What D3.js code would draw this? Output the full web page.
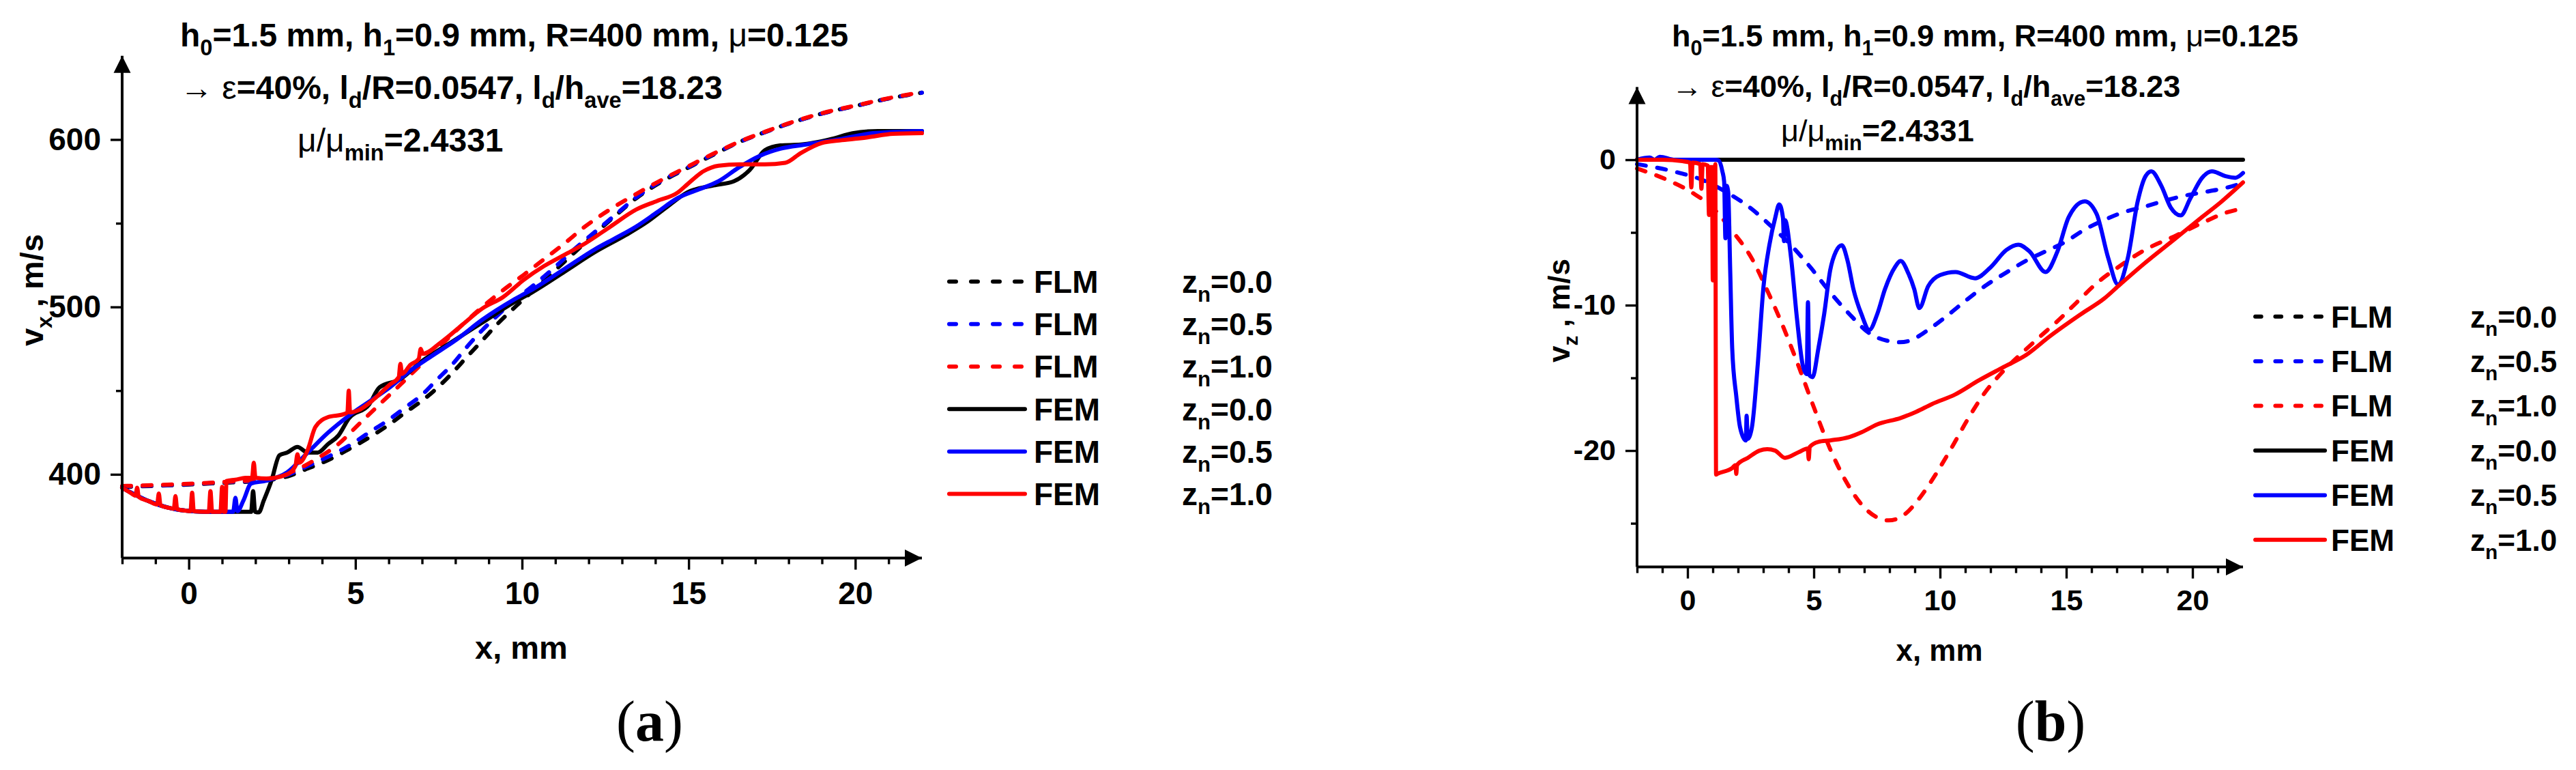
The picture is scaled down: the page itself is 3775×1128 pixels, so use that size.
<!DOCTYPE html>
<html><head><meta charset="utf-8">
<script src="https://cdnjs.cloudflare.com/ajax/libs/d3/7.8.5/d3.min.js"></script>
<style>html,body{margin:0;padding:0;background:#fff}svg{display:block}</style>
</head><body>
<svg id="c" width="3775" height="1128" xmlns="http://www.w3.org/2000/svg"></svg>
<script>
// ---------- shared categories / ticks ----------
const xDomain = [-2, 22];
const xMajorTicks = [0, 5, 10, 15, 20];
const xMinorTicks = [-2, -1, 1, 2, 3, 4, 6, 7, 8, 9, 11, 12, 13, 14, 16, 17, 18, 19, 21];
const legendMethods = ["FLM", "FLM", "FLM", "FEM", "FEM", "FEM"];
const legendZn = ["0.0", "0.5", "1.0", "0.0", "0.5", "1.0"];
const seriesColors = ["#000000", "#0000ff", "#ff0000", "#000000", "#0000ff", "#ff0000"];
const seriesDashed = [true, true, true, false, false, false];

// ---------- panel (a): v_x, m/s ----------
const aYDomain = [350, 650];
const aYMajorTicks = [400, 500, 600];
const aYMinorTicks = [450, 550];
const aFLM00 = [[-2,392.5],[-0.5,393.5],[1.1,395],[2.33,396.5],[3,399],[3.57,403.5],[4.18,408.5],[4.8,415],[5.41,422],[6.03,430],[6.5,437],[7,444],[7.42,451],[7.88,460],[8.34,470],[8.81,480],[9.27,490],[9.74,499],[10.35,510],[11,522],[11.6,533],[12.2,544],[12.8,554.5],[13.43,565],[14.2,575],[14.97,583],[15.75,591],[16.52,598.5],[17.3,604.5],[18,609.5],[19,615.5],[20.1,620.5],[21,624.5],[22,628]];
const aFLM05 = [[-2,392.8],[-0.45,393.7],[1.1,395.3],[2.33,396.8],[3,400],[3.57,405],[4.18,410.5],[4.8,417],[5.41,425],[6.03,433],[6.5,440],[7,447.5],[7.42,456],[7.9,465.5],[8.34,476],[8.8,486],[9.27,495],[9.74,503.5],[10.35,513],[11,524],[11.6,535],[12.2,545],[12.8,555],[13.43,565.5],[14.2,575.5],[14.97,583.3],[15.75,591.3],[16.52,598.5],[17.3,604.5],[18,609.5],[19,615.5],[20.1,620.5],[21,624.5],[22,628]];
const aFLM10 = [[-2,393],[-0.45,394],[1.1,395.5],[2.33,397.3],[3.26,403],[3.87,409.7],[4.49,418.1],[5.1,429.9],[5.72,441.7],[6.35,453.6],[6.96,465.4],[7.57,477.2],[8.19,489],[8.81,500],[9.43,510],[10.04,519],[10.66,528.5],[11.28,538],[11.89,548],[12.66,558.5],[13.43,567.5],[14.2,576],[14.97,583.8],[15.75,591.6],[16.52,598.7],[17.3,604.7],[18,609.7],[19,615.7],[20.1,620.7],[21,624.7],[22,628.2]];
const aFEM00 = [[-2,392],[-1.2,384],[-0.6,380],[-0.1,378.3],[0.5,377.6],[1.87,377.6],[1.93,390],[1.99,377.6],[2.1,377.3],[2.25,384.4],[2.48,396.2],[2.72,411.4],[2.95,413],[3.26,416.4],[3.57,413],[3.87,413],[4.18,418.1],[4.49,423.2],[4.8,433.3],[5.41,441.7],[5.72,451.9],[6.35,456.9],[6.96,467.1],[7.88,478.9],[8.81,490.7],[9.74,502.5],[10.35,509.3],[11.28,521.1],[12.2,532.9],[13.12,543],[13.74,550.6],[14.36,559.9],[14.97,568.5],[15.75,572.6],[16.36,575.1],[16.83,581.8],[17.29,593.6],[17.75,596.5],[18.37,597],[19.3,600.4],[19.92,603.8],[20.68,605.1],[22,605.1]];
const aFEM05 = [[-2,392],[-1.2,384],[-0.6,380],[-0.1,378.3],[0.5,377.6],[1.1,377.6],[1.33,377.6],[1.4,386],[1.46,378],[1.64,384.4],[1.87,394.5],[2.33,396.2],[2.95,401.2],[3.57,413],[4.18,424.9],[4.8,435],[5.41,443.4],[6.03,451.9],[6.65,462],[7.27,470.4],[8.04,480.6],[8.81,492.4],[9.74,504.2],[10.35,510.9],[11.28,522.8],[12.2,534.6],[12.82,541.3],[13.43,548.1],[14.05,556.5],[14.67,565],[15.28,570],[15.9,575.1],[16.52,583.5],[17.14,590.3],[17.75,594.5],[18.52,597],[19.6,600.4],[20.53,603.8],[22,605.1]];
const aFEM10 = [[-2,392],[-1.75,389],[-1.6,387.3],[-1.55,392],[-1.5,386.5],[-1.2,384],[-0.95,382],[-0.9,388.5],[-0.85,381.6],[-0.6,380],[-0.45,379.5],[-0.4,387],[-0.35,379.2],[-0.1,378.3],[0.05,378],[0.1,389],[0.15,378],[0.5,377.6],[0.6,377.6],[0.65,390],[0.7,377.6],[0.95,377.6],[1.0,392.5],[1.05,377.6],[1.1,377.6],[1.13,396],[1.4,396.8],[1.7,397.9],[1.9,398],[1.95,407],[2.0,398],[2.33,397.5],[2.95,400],[3.2,405],[3.26,412],[3.32,407],[3.57,414.7],[3.8,428.3],[4.18,434.2],[4.64,435.9],[4.76,437],[4.8,450],[4.84,437],[5.1,438.4],[5.57,445.1],[6.03,453.6],[6.3,458],[6.35,466],[6.4,460],[6.65,465.4],[6.9,469],[6.96,475],[7.02,472],[7.57,478.9],[8.19,489],[8.81,499.1],[9.43,505.9],[10.04,516],[10.66,524.4],[11.28,531.2],[11.89,537.9],[12.66,548.1],[13.43,558.2],[14.05,563.3],[14.67,568.3],[14.97,573.4],[15.44,581],[15.9,584.4],[16.52,585.2],[17.29,585.2],[17.9,586.1],[18.37,592],[18.99,597.9],[19.6,599.6],[20.37,601.3],[21.14,603.4],[22,603.8]];

// ---------- panel (b): v_z, m/s ----------
const bYDomain = [-28, 5];
const bYMajorTicks = [-20, -10, 0];
const bYMinorTicks = [-25, -15, -5];
const bFLM00 = [[-2,0],[5,0],[10,0],[15,0],[22,0]];
const bFLM05 = [[-2,-0.3],[-0.56,-0.8],[0.68,-1.45],[1.61,-2.3],[2.55,-3.4],[3.32,-4.58],[4.1,-5.88],[4.87,-7.4],[5.65,-9.12],[6.42,-10.63],[7.2,-11.93],[7.97,-12.47],[8.42,-12.55],[8.75,-12.47],[9.53,-11.7],[10.3,-10.7],[11.08,-9.6],[11.85,-8.6],[12.63,-7.75],[13.4,-6.95],[14.18,-6.3],[14.96,-5.65],[15.73,-4.8],[16.5,-4.15],[17.28,-3.6],[18.06,-3.25],[18.84,-2.85],[19.61,-2.5],[20.38,-2.25],[21.16,-2.0],[22,-1.6]];
const bFLM10 = [[-2,-0.6],[-0.87,-1.34],[0.22,-2.3],[0.99,-3.29],[1.77,-4.9],[2.55,-6.8],[3.16,-9.0],[3.78,-11.45],[4.4,-14.2],[5.02,-17.1],[5.65,-19.9],[6.27,-22.1],[6.89,-23.7],[7.51,-24.6],[7.97,-24.8],[8.59,-24.4],[9.22,-23.2],[9.84,-21.6],[10.46,-19.8],[11.08,-17.9],[11.7,-16.2],[12.47,-14.6],[13.24,-13.3],[13.87,-12.3],[14.65,-11.1],[15.42,-9.8],[16.2,-8.5],[17.13,-7.3],[18.06,-6.25],[19.3,-5.25],[20.38,-4.35],[21.31,-3.65],[22,-3.35]];
const bFEM00 = [[-2,0],[5,0],[10,0],[15,0],[22,0]];
const bFEM05 = [[-2,0],[-1.5,0.15],[-1.3,0],[-1.1,0.2],[-0.5,0],[0.2,0],[1.1,0],[1.23,-0.05],[1.38,-0.8],[1.45,-1.5],[1.5,-5.4],[1.55,-1.8],[1.61,-2.2],[1.69,-7.6],[1.77,-13],[1.93,-16.25],[2.08,-18.4],[2.31,-19.3],[2.34,-17.6],[2.38,-19.2],[2.55,-18.4],[2.78,-14.1],[3.01,-8.7],[3.24,-5.88],[3.48,-3.94],[3.63,-3.07],[3.78,-4.0],[3.82,-5.6],[3.86,-4.15],[4.1,-6.74],[4.33,-10.85],[4.56,-14.1],[4.72,-14.74],[4.77,-9.8],[4.82,-14.8],[4.95,-14.95],[5.18,-13],[5.41,-10.63],[5.65,-7.6],[5.88,-6.3],[6.11,-5.88],[6.34,-6.96],[6.57,-8.9],[6.89,-10.63],[7.2,-11.7],[7.51,-10.63],[7.82,-8.9],[8.21,-7.4],[8.44,-6.96],[8.75,-7.83],[8.98,-8.9],[9.18,-10.2],[9.53,-8.7],[10.0,-7.93],[10.61,-7.72],[11.39,-8.15],[12.0,-7.4],[12.63,-6.2],[13.1,-5.84],[13.55,-6.31],[14.18,-7.72],[14.65,-6.31],[15.1,-3.94],[15.73,-2.86],[16.2,-3.72],[16.66,-6.74],[17.05,-8.58],[17.44,-6.74],[17.83,-2.86],[18.14,-1.13],[18.37,-0.8],[18.76,-1.78],[19.14,-3.29],[19.53,-3.83],[19.92,-2.64],[20.38,-1.24],[20.77,-0.8],[21.31,-1.13],[21.7,-1.24],[22,-0.91]];
const bFEM10 = [[-2,0],[-1,0],[-0.2,-0.1],[0.1,-0.2],[0.15,-1.9],[0.2,-0.2],[0.5,-0.3],[0.55,-2.0],[0.6,-0.3],[0.8,-0.4],[0.85,-3.8],[0.9,-0.5],[0.97,-0.5],[1.0,-8.3],[1.03,-0.5],[1.08,-0.5],[1.1,-0.3],[1.13,-21.65],[1.18,-21.6],[1.77,-21.2],[1.9,-21.0],[1.93,-21.6],[1.96,-21.0],[2.39,-20.5],[2.85,-20.0],[3.16,-19.9],[3.47,-20.0],[3.86,-20.5],[4.41,-20.1],[4.76,-19.85],[4.8,-20.6],[4.84,-19.75],[5.18,-19.4],[5.65,-19.3],[6.42,-19.06],[6.89,-18.74],[7.51,-18.2],[8.44,-17.76],[9.06,-17.33],[9.68,-16.8],[10.6,-16.14],[11.54,-15.17],[12.47,-14.3],[13.4,-13.44],[14.34,-12.15],[15.57,-10.63],[16.5,-9.55],[17.13,-8.58],[18.06,-7.18],[19.3,-5.45],[20.38,-3.94],[21.16,-2.86],[22,-1.56]];

// ---------- drawing ----------
const SANS = "'Liberation Sans', Arial, Helvetica, sans-serif";
const svg = d3.select("#c");

function richText(g, x, y, parts, size, anchor, rotate) {
  const t = g.append("text")
    .attr("font-family", SANS).attr("font-weight", "bold")
    .attr("font-size", size).attr("text-anchor", anchor || "start").attr("fill", "#000");
  if (rotate) t.attr("transform", `translate(${x},${y}) rotate(${rotate})`);
  else t.attr("x", x).attr("y", y);
  let shifted = 0;
  parts.forEach(([s, kind]) => {
    const ts = t.append("tspan").text(s);
    if (kind === "sub") {
      const d = size * 0.28;
      ts.attr("font-size", size * 0.68).attr("dy", d - shifted);
      shifted = d;
    } else {
      if (shifted) ts.attr("dy", -shifted);
      shifted = 0;
      if (kind === "g") ts.attr("font-weight", "normal");
    }
  });
  return t;
}

function drawPanel(P) {
  const g = svg.append("g");
  const x = d3.scaleLinear().domain(xDomain).range(P.xRange);
  const y = d3.scaleLinear().domain(P.yDomain).range(P.yRange);
  const line = d3.line().x(d => x(d[0])).y(d => y(d[1])).curve(d3.curveMonotoneX);

  P.series.forEach((data, i) => {
    g.append("path").datum(data).attr("d", line)
      .attr("fill", "none").attr("stroke", seriesColors[i]).attr("stroke-width", 6)
      .attr("stroke-linejoin", "round").attr("stroke-linecap", "round")
      .attr("stroke-dasharray", seriesDashed[i] ? "13,17" : null);
  });

  const X0 = x(xDomain[0]), X1 = x(xDomain[1]);
  const Y0 = y(P.yDomain[0]), Y1 = y(P.yDomain[1]);

  // x axis
  const xa = g.append("g").attr("transform", `translate(0,${Y0})`);
  xa.call(d3.axisBottom(x).tickValues(xMajorTicks).tickSize(17).tickSizeOuter(0)
    .tickPadding(P.xPad).tickFormat(d => String(d)));
  xa.append("g").call(d3.axisBottom(x).tickValues(xMinorTicks).tickSize(9).tickSizeOuter(0).tickFormat(""));
  // y axis
  const ya = g.append("g").attr("transform", `translate(${X0},0)`);
  ya.call(d3.axisLeft(y).tickValues(P.yMajor).tickSize(17).tickSizeOuter(0)
    .tickPadding(14).tickFormat(d => String(d)));
  ya.append("g").call(d3.axisLeft(y).tickValues(P.yMinor).tickSize(9).tickSizeOuter(0).tickFormat(""));

  g.selectAll(".domain").remove();
  g.selectAll(".tick line").attr("stroke", "#000").attr("stroke-width", 3.4);
  g.selectAll(".tick text").attr("font-family", SANS).attr("font-weight", "bold")
    .attr("font-size", P.tickFont).attr("fill", "#000");

  // axis lines + arrows
  g.append("line").attr("x1", X0).attr("x2", X1).attr("y1", Y0).attr("y2", Y0)
    .attr("stroke", "#000").attr("stroke-width", 4);
  g.append("line").attr("x1", X0).attr("x2", X0).attr("y1", Y0).attr("y2", Y1)
    .attr("stroke", "#000").attr("stroke-width", 4);
  g.append("path").attr("d", `M${X1},${Y0} L${X1 - 25},${Y0 - 12.5} L${X1 - 25},${Y0 + 12.5} Z`).attr("fill", "#000");
  g.append("path").attr("d", `M${X0},${Y1} L${X0 - 12.5},${Y1 + 25} L${X0 + 12.5},${Y1 + 25} Z`).attr("fill", "#000");

  // axis titles
  richText(g, P.xLabel[0], P.xLabel[1], [["x, mm", "n"]], P.labelFont, "middle");
  richText(g, P.yLabel[0], P.yLabel[1], [["v", "n"], [P.ySub, "sub"], [" , m/s", "n"]], P.labelFont, "middle", -90);

  // header text
  const T = P.title;
  richText(g, T.x1, T.y1, [["h", "n"], ["0", "sub"], ["=1.5 mm, h", "n"], ["1", "sub"], ["=0.9 mm, R=400 mm, ", "n"], ["\u03bc", "g"], ["=0.125", "n"]], T.size);
  richText(g, T.x1, T.y2, [["\u2192 ", "g"], ["\u03b5", "g"], ["=40%, l", "n"], ["d", "sub"], ["/R=0.0547, l", "n"], ["d", "sub"], ["/h", "n"], ["ave", "sub"], ["=18.23", "n"]], T.size);
  richText(g, T.x3, T.y3, [["\u03bc/\u03bc", "g"], ["min", "sub"], ["=2.4331", "n"]], T.size);

  // legend
  const L = P.legend;
  legendMethods.forEach((m, i) => {
    const cy = L.y0 + i * L.dy;
    if (seriesDashed[i]) {
      g.append("line").attr("x1", L.sx1 + 3).attr("x2", L.sx2 - 3).attr("y1", cy).attr("y2", cy)
        .attr("stroke", seriesColors[i]).attr("stroke-width", 6).attr("stroke-linecap", "round")
        .attr("stroke-dasharray", L.dash);
    } else {
      g.append("line").attr("x1", L.sx1 + 3).attr("x2", L.sx2 + 2).attr("y1", cy).attr("y2", cy)
        .attr("stroke", seriesColors[i]).attr("stroke-width", 6).attr("stroke-linecap", "round");
    }
    const by = cy + 0.358 * L.font;
    richText(g, L.tx, by, [[m, "n"]], L.font);
    richText(g, L.zx, by, [["z", "n"], ["n", "sub"], ["=" + legendZn[i], "n"]], L.font);
  });

  // panel tag
  const tag = g.append("text").attr("x", P.tag[0]).attr("y", P.tag[1])
    .attr("font-family", "'Liberation Serif', 'Times New Roman', serif")
    .attr("font-size", 84).attr("text-anchor", "middle").attr("fill", "#000");
  tag.append("tspan").text("(");
  tag.append("tspan").attr("font-weight", "bold").text(P.tag[2]);
  tag.append("tspan").text(")");
}

drawPanel({
  xRange: [179, 1351], yDomain: aYDomain, yRange: [817.5, 81.8],
  yMajor: aYMajorTicks, yMinor: aYMinorTicks,
  series: [aFLM00, aFLM05, aFLM10, aFEM00, aFEM05, aFEM10],
  tickFont: 46, labelFont: 47, xPad: 18,
  xLabel: [764, 965], yLabel: [63, 425], ySub: "x",
  title: { size: 48, x1: 264, y1: 68, y2: 145, x3: 436, y3: 222 },
  legend: { y0: 412.6, dy: 62.2, sx1: 1388, sx2: 1500, dash: "10,22", tx: 1515, zx: 1732, font: 46 },
  tag: [952, 1085, "a"]
});

drawPanel({
  xRange: [2399, 3287], yDomain: bYDomain, yRange: [830.5, 127.5],
  yMajor: bYMajorTicks, yMinor: bYMinorTicks,
  series: [bFLM00, bFLM05, bFLM10, bFEM00, bFEM05, bFEM10],
  tickFont: 43, labelFont: 44, xPad: 16,
  xLabel: [2842, 968], yLabel: [2300, 455], ySub: "z",
  title: { size: 45, x1: 2450, y1: 68, y2: 142, x3: 2610, y3: 207 },
  legend: { y0: 463.8, dy: 65.4, sx1: 3302, sx2: 3405, dash: "8.7,20.7", tx: 3416, zx: 3620, font: 44 },
  tag: [3005, 1085, "b"]
});
</script>
</body></html>
